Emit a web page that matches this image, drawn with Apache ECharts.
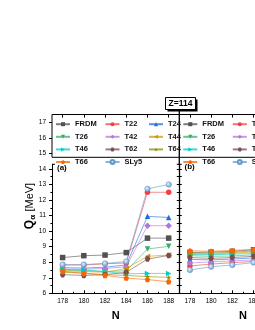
<!DOCTYPE html>
<html><head><meta charset="utf-8">
<script src="https://cdn.jsdelivr.net/npm/echarts@6/dist/echarts.min.js"></script>
<style>html,body{margin:0;padding:0;background:#fff;overflow:hidden}#c{width:400px;height:330px}</style>
</head><body><div id="c"></div>
<script>
// ---- data ----
const N_A = [178, 180, 182, 184, 186, 188];
const N_B = [178, 180, 182, 184];
const xTicks = [178, 180, 182, 184, 186, 188];
const xMinor = [179, 181, 183, 185, 187];
const yTicksLow = [6, 7, 8, 9, 10, 11, 12, 13, 14];
const yMinorLow = [6.5, 7.5, 8.5, 9.5, 10.5, 11.5, 12.5, 13.5];
const yHalfLow = [6, 6.5, 7, 7.5, 8, 8.5, 9, 9.5, 10, 10.5, 11, 11.5, 12, 12.5, 13, 13.5, 14];
const yTicksUp = [15, 16, 17];
const names = ['FRDM', 'T22', 'T24', 'T26', 'T42', 'T44', 'T46', 'T62', 'T64', 'T66', 'SLy5'];

// panel (a)
const a_FRDM = [8.30, 8.42, 8.46, 8.62, 9.55, 9.55];
const a_T22  = [7.82, 7.82, 7.90, 7.95, 12.50, 12.50];
const a_T24  = [7.65, 7.62, 7.68, 7.82, 10.95, 10.88];
const a_T26  = [7.50, 7.45, 7.40, 7.45, 8.85, 9.02];
const a_T42  = [7.55, 7.55, 7.60, 7.70, 10.35, 10.35];
const a_T44  = [7.45, 7.40, 7.35, 7.60, 8.38, 8.46];
const a_T46  = [7.55, 7.50, 7.40, 7.25, 7.28, 7.28];
const a_T62  = [7.20, 7.15, 7.20, 7.35, 8.20, 8.44];
const a_T64  = [7.35, 7.30, 7.20, 7.15, 7.07, 7.03];
const a_T66  = [7.42, 7.28, 7.15, 6.98, 6.88, 6.75];
const a_SLy5 = [7.85, 7.85, 7.92, 8.05, 12.72, 13.00];

// panel (b)
const b_FRDM = [8.62, 8.65, 8.70, 8.80];
const b_T22  = [7.76, 7.88, 7.97, 8.05];
const b_T24  = [8.18, 8.15, 8.20, 8.28];
const b_T26  = [8.42, 8.38, 8.40, 8.48];
const b_T42  = [7.95, 8.02, 8.08, 8.15];
const b_T44  = [8.55, 8.52, 8.58, 8.66];
const b_T46  = [8.50, 8.48, 8.52, 8.56];
const b_T62  = [8.30, 8.25, 8.30, 8.38];
const b_T64  = [8.60, 8.58, 8.64, 8.72];
const b_T66  = [8.74, 8.70, 8.76, 8.82];
const b_SLy5 = [7.50, 7.71, 7.82, 7.98];

const dataA = [a_FRDM, a_T22, a_T24, a_T26, a_T42, a_T44, a_T46, a_T62, a_T64, a_T66, a_SLy5];
const dataB = [b_FRDM, b_T22, b_T24, b_T26, b_T42, b_T44, b_T46, b_T62, b_T64, b_T66, b_SLy5];

// ---- styles ----
const FONT = 'Liberation Sans, Arial, sans-serif';
const hexPath = 'path://M25,0 L75,0 L100,43 L75,86 L25,86 L0,43 Z';
const starPath = 'path://M50,0 L61,35 L98,35 L68,57 L79,91 L50,70 L21,91 L32,57 L2,35 L39,35 Z';
const pentPath = 'path://M50,0 L98,35 L79,91 L21,91 L2,35 Z';
const colors = ['#515151', '#F14040', '#1A6FDF', '#37AD6B', '#B177DE', '#CC9900', '#00CBCC', '#7D4E4E', '#8E8E00', '#FB6501', '#6699CC'];
const symbols = ['rect', 'circle', 'triangle', 'triangle', 'diamond', 'triangle', 'triangle', hexPath, starPath, pentPath, 'circle'];
const rotates = [0, 0, 0, 180, 0, 90, -90, 0, 0, 0, 0];

const GL = 52, GW = 127.3, GB = GL + GW;
const lowTop = 164.3, lowH = 129, upTop = 114.5, upH = 42.8;

function mkSeries(arrs, xs, xi, yi) {
  return names.map((n, i) => ({
    name: n, type: 'line', xAxisIndex: xi, yAxisIndex: yi,
    data: xs.map((x, k) => [x, arrs[i][k]]),
    symbol: symbols[i], symbolRotate: rotates[i], symbolSize: i === 4 ? 6.5 : 5.5,
    lineStyle: { color: colors[i], width: 0.8, opacity: 0.75 },
    itemStyle: i === 10 ? {
      color: { type: 'radial', x: 0.4, y: 0.4, r: 0.6, colorStops: [{ offset: 0, color: '#e8f0fa' }, { offset: 1, color: '#6699CC' }] },
      borderColor: '#6699CC', borderWidth: 0.5
    } : { color: colors[i] },
    emphasis: { disabled: true }, animation: false, z: 3
  }));
}

const blk = { lineStyle: { color: '#000', width: 1 } };
const tickLbl = { fontSize: 6.5, color: '#000', fontFamily: FONT };

function xMain(g) {
  return { gridIndex: g, type: 'value', min: 177, max: 189, position: 'bottom',
    axisLine: { show: true, ...blk }, splitLine: { show: false },
    axisTick: { show: true, inside: true, length: 3, customValues: xTicks, ...blk },
    axisLabel: { show: true, customValues: xTicks, margin: 4, ...tickLbl },
    name: 'N', nameLocation: 'middle', nameGap: 17,
    nameTextStyle: { fontSize: 11, fontWeight: 'bold', color: '#000', fontFamily: FONT } };
}
function xMin(g) {
  return { gridIndex: g, type: 'value', min: 177, max: 189, position: 'bottom',
    axisLine: { show: false }, splitLine: { show: false }, axisLabel: { show: false },
    axisTick: { show: true, inside: true, length: 1.6, customValues: xMinor, ...blk } };
}
function xTop(g) {
  return { gridIndex: g, type: 'value', min: 177, max: 189, position: 'top',
    axisLine: { show: false }, splitLine: { show: false }, axisLabel: { show: false },
    axisTick: { show: true, inside: true, length: 3, customValues: xTicks, ...blk } };
}

const xAxis = [xMain(0), xMin(0), xTop(1), xMain(2), xMin(2), xTop(3)];
const yAxis = [
  { gridIndex: 0, type: 'value', min: 6, max: 14.3, position: 'left',
    axisLine: { show: true, ...blk }, splitLine: { show: false },
    axisTick: { show: true, inside: false, length: 3, customValues: yTicksLow, ...blk },
    axisLabel: { show: true, customValues: yTicksLow, margin: 6, ...tickLbl } },
  { gridIndex: 0, type: 'value', min: 6, max: 14.3, position: 'left',
    axisLine: { show: false }, splitLine: { show: false }, axisLabel: { show: false },
    axisTick: { show: true, inside: false, length: 1.6, customValues: yMinorLow, ...blk } },
  { gridIndex: 1, type: 'value', min: 14.75, max: 17.5, position: 'left',
    axisLine: { show: false }, splitLine: { show: false },
    axisTick: { show: true, inside: false, length: 3, customValues: yTicksUp, ...blk },
    axisLabel: { show: true, customValues: yTicksUp, margin: 6, ...tickLbl } },
  { gridIndex: 2, type: 'value', min: 6, max: 14.3, position: 'left',
    axisLine: { show: true, lineStyle: { color: '#000', width: 1.3 } }, splitLine: { show: false }, axisLabel: { show: false },
    axisTick: { show: true, inside: false, length: 2.5, customValues: yHalfLow, ...blk } },
  { gridIndex: 2, type: 'value', min: 6, max: 14.3, position: 'left',
    axisLine: { show: false }, splitLine: { show: false }, axisLabel: { show: false },
    axisTick: { show: true, inside: true, length: 2.5, customValues: yHalfLow, ...blk } },
  { gridIndex: 3, type: 'value', min: 14.75, max: 17.5, position: 'left',
    axisLine: { show: false }, splitLine: { show: false }, axisLabel: { show: false }, axisTick: { show: false } }
];

const grid = [
  { left: GL, top: lowTop, width: GW, height: lowH, show: false },
  { left: GL, top: upTop, width: GW, height: upH, show: true, borderColor: '#000', borderWidth: 1, backgroundColor: 'transparent' },
  { left: GB, top: lowTop, width: GW, height: lowH, show: false },
  { left: GB, top: upTop, width: GW, height: upH, show: true, borderColor: '#000', borderWidth: 1, backgroundColor: 'transparent' }
];

const legBase = { orient: 'vertical', padding: 0, itemWidth: 14, itemHeight: 5, itemGap: 4.6, top: 120.2,
  selectedMode: false, textStyle: { fontSize: 7.5, fontWeight: 'bold', color: '#111', fontFamily: FONT } };
const col1 = ['FRDM', 'T26', 'T46', 'T66'], col2 = ['T22', 'T42', 'T62', 'SLy5'], col3 = ['T24', 'T44', 'T64'];
const legend = [
  { ...legBase, left: 55, data: col1 }, { ...legBase, left: 104.5, data: col2 }, { ...legBase, left: 148, data: col3 },
  { ...legBase, left: 55 + GW, data: col1 }, { ...legBase, left: 104.5 + GW, data: col2 }, { ...legBase, left: 148 + GW, data: col3 }
];

const graphic = [
  { type: 'text', x: 57, y: 168, style: { text: '(a)', fontSize: 8, fontWeight: 'bold', fill: '#000', fontFamily: FONT, verticalAlign: 'middle' } },
  { type: 'text', x: 184.5, y: 166.5, style: { text: '(b)', fontSize: 8, fontWeight: 'bold', fill: '#000', fontFamily: FONT, verticalAlign: 'middle' } },
  { type: 'text', x: 30, y: 206, rotation: Math.PI / 2,
    style: { text: '{q|Q}{s|α} {u|[MeV]}', align: 'center', verticalAlign: 'middle', fill: '#000',
      rich: { q: { fontSize: 12, fontWeight: 'bold', fontFamily: FONT, lineHeight: 14, verticalAlign: 'middle' },
              s: { fontSize: 8, fontWeight: 'bold', fontFamily: FONT, lineHeight: 14, verticalAlign: 'bottom' },
              u: { fontSize: 11, fontFamily: FONT, lineHeight: 14, verticalAlign: 'middle' } } } },
  // break marks
  { type: 'line', shape: { x1: GB, y1: upTop + upH, x2: GB, y2: lowTop }, style: { stroke: '#000', lineWidth: 1.3 } },
  { type: 'line', shape: { x1: GB - 2.5, y1: lowTop, x2: GB + 2.5, y2: lowTop }, style: { stroke: '#000', lineWidth: 1 } },
  { type: 'line', shape: { x1: GL, y1: lowTop, x2: GL + 3, y2: lowTop }, style: { stroke: '#000', lineWidth: 1 } },
  // Z=114 box
  { type: 'line', shape: { x1: GB, y1: 109, x2: GB, y2: upTop }, style: { stroke: '#000', lineWidth: 1.3 } },
  { type: 'rect', shape: { x: 167.5, y: 99.5, width: 30, height: 12 }, style: { fill: '#000' } },
  { type: 'rect', shape: { x: 165.5, y: 97.5, width: 30, height: 12 }, style: { fill: '#fff', stroke: '#000', lineWidth: 1 } },
  { type: 'text', x: 180.5, y: 104, style: { text: 'Z=114', align: 'center', verticalAlign: 'middle', fontSize: 8.5, fontWeight: 'bold', fill: '#000', fontFamily: FONT } }
];

const chart = echarts.init(document.getElementById('c'), null, { renderer: 'canvas' });
chart.setOption({
  animation: false, backgroundColor: '#fff',
  grid, xAxis, yAxis, legend, graphic,
  series: [...mkSeries(dataA, N_A, 0, 0), ...mkSeries(dataB, N_B, 3, 3)]
});
</script></body></html>
